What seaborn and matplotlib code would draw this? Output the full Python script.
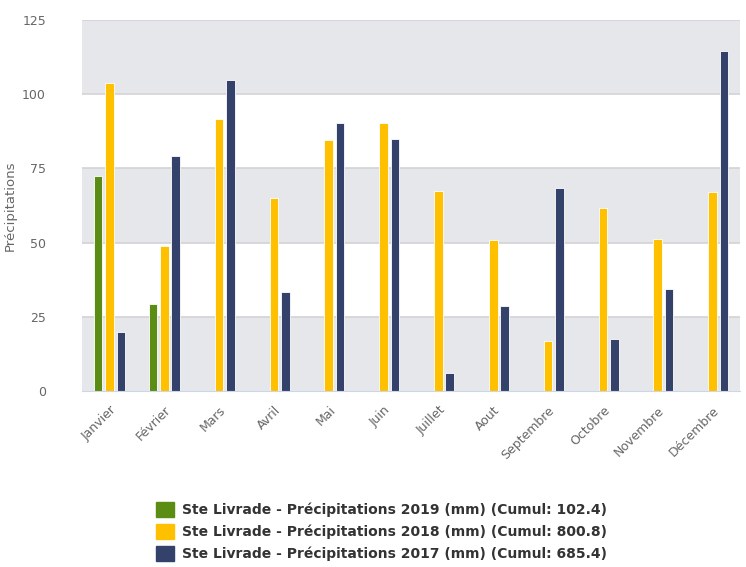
import pandas as pd
import numpy as np
import seaborn as sns
import matplotlib.pyplot as plt

mois = ['Janvier', 'Février', 'Mars', 'Avril', 'Mai', 'Juin', 'Juillet',
        'Aout', 'Septembre', 'Octobre', 'Novembre', 'Décembre']
pluie_2019 = [72.5, 29.5, np.nan, np.nan, np.nan, np.nan, np.nan,
              np.nan, np.nan, np.nan, np.nan, np.nan]
pluie_2018 = [103.6, 48.8, 91.6, 65.1, 84.4, 90.3, 67.3, 51.0, 16.9, 61.6, 51.1, 66.9]
pluie_2017 = [19.9, 79.3, 104.6, 33.3, 90.3, 84.8, 6.0, 28.6, 68.5, 17.7, 34.5, 114.4]

series = ['Ste Livrade - Précipitations 2019 (mm) (Cumul: 102.4)',
          'Ste Livrade - Précipitations 2018 (mm) (Cumul: 800.8)',
          'Ste Livrade - Précipitations 2017 (mm) (Cumul: 685.4)']
couleurs = ['#5b8c14', '#ffc000', '#34426b']

data = pd.DataFrame({
    'Mois': mois * 3,
    'Serie': [series[0]] * 12 + [series[1]] * 12 + [series[2]] * 12,
    'Valeur': pluie_2019 + pluie_2018 + pluie_2017,
})

sns.set_style('white')
plt.rcParams['font.family'] = ['DejaVu Sans']

fig = plt.figure(figsize=(7.46, 5.67), dpi=100)
ax = fig.add_axes([0.11, 0.31, 0.882, 0.655])

sns.barplot(data=data, x='Mois', y='Valeur', hue='Serie', palette=couleurs,
            width=0.62, saturation=1, legend=False, ax=ax, zorder=3,
            edgecolor='white', linewidth=0.6)

# barres plus fines, avec un espace entre elles
for p in ax.patches:
    w = p.get_width()
    p.set_x(p.get_x() + w * 0.12)
    p.set_width(w * 0.76)

# bandes grises alternées
for y0 in [0, 50, 100]:
    ax.axhspan(y0, y0 + 25, color='#e6e7ea', zorder=0, lw=0)

ax.set_ylim(0, 125)
ax.set_xlim(-0.5, 11.5)
ax.set_yticks([0, 25, 50, 75, 100, 125])
for y in [25, 50, 75, 100, 125]:
    ax.axhline(y, color='#d3d3d6', lw=1.2, zorder=1)

for s in ['top', 'right', 'left']:
    ax.spines[s].set_visible(False)
ax.spines['bottom'].set_color('#ccd6eb')
ax.spines['bottom'].set_zorder(4)

ax.set_xticks(range(12))
ax.set_xticklabels(mois, rotation=45, ha='right', rotation_mode='anchor',
                   fontsize=9, color='#666666')
ax.set_xticks(np.arange(-0.5, 12, 1), minor=True)
ax.tick_params(axis='x', which='major', length=0, pad=9)
ax.tick_params(axis='x', which='minor', length=9, color='#ccd6eb', width=1)
ax.tick_params(axis='y', length=0, labelsize=9, labelcolor='#666666', pad=26)

ax.set_xlabel('')
ax.set_ylabel('Précipitations', fontsize=9.5, color='#666666', labelpad=4)

handles = [plt.Rectangle((0, 0), 1, 1, color=c) for c in couleurs]
leg = fig.legend(handles, series, loc='upper center', bbox_to_anchor=(0.511, 0.137),
                 frameon=False, handlelength=1.3, handleheight=1.3,
                 handletextpad=0.6, labelspacing=0.5,
                 prop={'weight': 'bold', 'size': 10})
for t in leg.get_texts():
    t.set_color('#333333')

plt.savefig('out.png', dpi=100)
